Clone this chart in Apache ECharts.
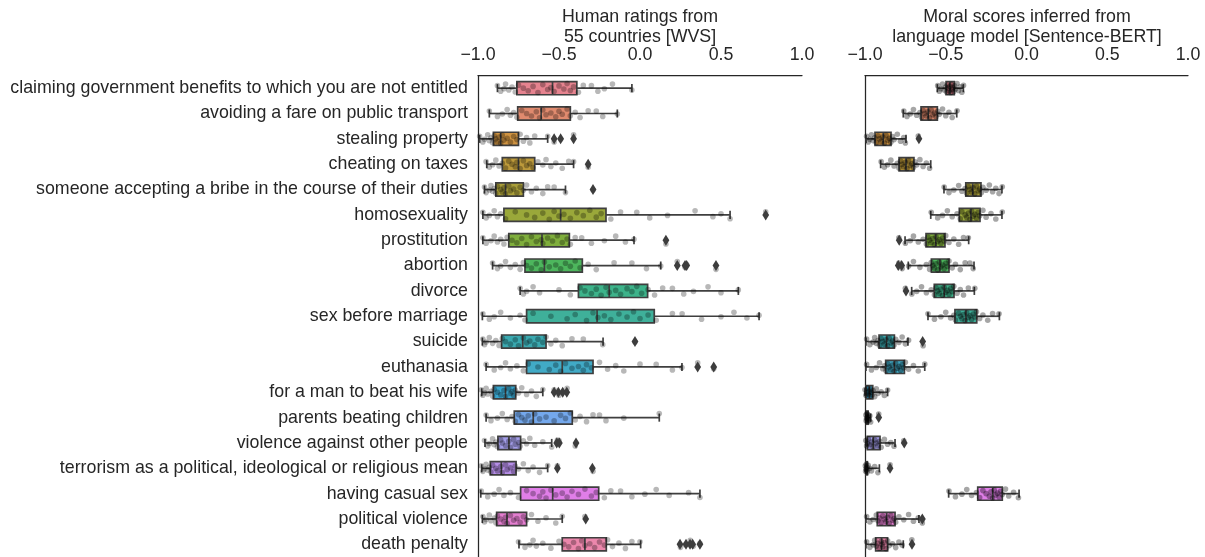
<!DOCTYPE html>
<html>
<head>
<meta charset="utf-8">
<script src="https://cdn.jsdelivr.net/npm/echarts@6/dist/echarts.min.js"></script>
<style>
  html, body { margin: 0; padding: 0; background: #fff; }
  #chart { width: 1205px; height: 557px; }
</style>
</head>
<body>
<div id="chart"></div>
<script>
const CATEGORIES = [
  "claiming government benefits to which you are not entitled",
  "avoiding a fare on public transport",
  "stealing property",
  "cheating on taxes",
  "someone accepting a bribe in the course of their duties",
  "homosexuality",
  "prostitution",
  "abortion",
  "divorce",
  "sex before marriage",
  "suicide",
  "euthanasia",
  "for a man to beat his wife",
  "parents beating children",
  "violence against other people",
  "terrorism as a political, ideological or religious mean",
  "having casual sex",
  "political violence",
  "death penalty"
];

// [lower whisker, q1, median, q3, upper whisker]
const WVS_BOX = [
  [-0.88, -0.76, -0.54, -0.39, -0.05],
  [-0.93, -0.755, -0.61, -0.43, -0.14],
  [-0.99, -0.905, -0.86, -0.75, -0.57],
  [-0.946, -0.85, -0.75, -0.65, -0.41],
  [-0.96, -0.89, -0.83, -0.72, -0.46],
  [-0.97, -0.84, -0.49, -0.21, 0.556],
  [-0.97, -0.81, -0.605, -0.436, -0.037],
  [-0.91, -0.71, -0.59, -0.356, 0.128],
  [-0.74, -0.38, -0.19, 0.047, 0.607],
  [-0.973, -0.70, -0.265, 0.088, 0.735],
  [-0.973, -0.854, -0.724, -0.58, -0.228],
  [-0.95, -0.70, -0.48, -0.29, 0.259],
  [-0.977, -0.905, -0.83, -0.767, -0.60],
  [-0.95, -0.776, -0.659, -0.418, 0.119],
  [-0.957, -0.877, -0.809, -0.737, -0.545],
  [-0.977, -0.924, -0.856, -0.765, -0.57],
  [-0.983, -0.737, -0.539, -0.255, 0.37],
  [-0.973, -0.885, -0.821, -0.70, -0.48],
  [-0.747, -0.48, -0.34, -0.208, 0.004]
];

const WVS_OUTLIERS = [
  [], [], [-0.53, -0.49, -0.41], [-0.32], [-0.29], [0.776], [0.16],
  [0.23, 0.278, 0.288, 0.469], [], [], [-0.031], [0.356, 0.455],
  [-0.53, -0.504, -0.477, -0.452], [], [-0.514, -0.498, -0.395],
  [-0.51, -0.294], [], [-0.335], [0.247, 0.284, 0.309, 0.325, 0.37]
];

const WVS_POINTS = [
  [-0.88,-0.86,-0.84,-0.83,-0.81,-0.79,-0.77,-0.75,-0.72,-0.69,-0.66,-0.63,-0.6,-0.57,-0.55,-0.53,-0.5,-0.47,-0.45,-0.43,-0.41,-0.38,-0.35,-0.3,-0.26,-0.22,-0.17,-0.05],
  [-0.93,-0.88,-0.85,-0.82,-0.8,-0.78,-0.76,-0.73,-0.7,-0.67,-0.64,-0.62,-0.6,-0.58,-0.55,-0.52,-0.5,-0.48,-0.45,-0.43,-0.4,-0.37,-0.32,-0.27,-0.23,-0.14],
  [-0.99,-0.97,-0.96,-0.94,-0.93,-0.92,-0.91,-0.9,-0.89,-0.88,-0.87,-0.86,-0.85,-0.84,-0.82,-0.8,-0.78,-0.76,-0.74,-0.72,-0.7,-0.68,-0.65,-0.57,-0.53,-0.49,-0.41],
  [-0.95,-0.93,-0.91,-0.89,-0.87,-0.85,-0.83,-0.81,-0.79,-0.77,-0.76,-0.74,-0.72,-0.7,-0.68,-0.66,-0.63,-0.6,-0.58,-0.55,-0.52,-0.48,-0.44,-0.41,-0.32],
  [-0.96,-0.95,-0.93,-0.92,-0.91,-0.9,-0.89,-0.88,-0.86,-0.85,-0.84,-0.83,-0.81,-0.8,-0.78,-0.76,-0.74,-0.72,-0.7,-0.67,-0.64,-0.6,-0.57,-0.53,-0.46,-0.29],
  [-0.97,-0.95,-0.93,-0.9,-0.88,-0.86,-0.83,-0.77,-0.7,-0.65,-0.6,-0.56,-0.53,-0.5,-0.47,-0.43,-0.39,-0.35,-0.31,-0.27,-0.24,-0.18,-0.12,-0.02,0.06,0.17,0.34,0.45,0.5,0.556,0.776],
  [-0.97,-0.95,-0.92,-0.9,-0.88,-0.86,-0.84,-0.82,-0.79,-0.76,-0.73,-0.7,-0.67,-0.64,-0.61,-0.6,-0.57,-0.54,-0.51,-0.48,-0.45,-0.43,-0.4,-0.36,-0.3,-0.22,-0.15,-0.09,-0.037,0.16],
  [-0.91,-0.88,-0.86,-0.83,-0.8,-0.77,-0.74,-0.72,-0.7,-0.67,-0.64,-0.61,-0.59,-0.56,-0.52,-0.49,-0.46,-0.43,-0.4,-0.37,-0.32,-0.27,-0.16,-0.05,0.04,0.128,0.23,0.278,0.288,0.469],
  [-0.74,-0.72,-0.7,-0.66,-0.62,-0.5,-0.43,-0.37,-0.34,-0.3,-0.27,-0.24,-0.21,-0.19,-0.15,-0.12,-0.08,-0.05,-0.02,0.01,0.05,0.09,0.14,0.2,0.27,0.33,0.42,0.5,0.607],
  [-0.97,-0.93,-0.9,-0.86,-0.8,-0.74,-0.71,-0.66,-0.55,-0.45,-0.4,-0.33,-0.29,-0.26,-0.22,-0.18,-0.13,-0.08,-0.04,0.0,0.05,0.1,0.2,0.26,0.38,0.5,0.58,0.66,0.735],
  [-0.97,-0.96,-0.95,-0.93,-0.91,-0.89,-0.87,-0.85,-0.83,-0.8,-0.77,-0.75,-0.72,-0.7,-0.68,-0.65,-0.63,-0.6,-0.58,-0.55,-0.52,-0.48,-0.42,-0.35,-0.23,-0.031],
  [-0.95,-0.9,-0.86,-0.83,-0.8,-0.76,-0.72,-0.69,-0.63,-0.56,-0.52,-0.49,-0.46,-0.42,-0.38,-0.35,-0.33,-0.3,-0.25,-0.2,-0.15,-0.1,0.0,0.1,0.2,0.259,0.356,0.455],
  [-0.98,-0.97,-0.96,-0.95,-0.94,-0.92,-0.91,-0.9,-0.88,-0.86,-0.84,-0.83,-0.81,-0.8,-0.79,-0.78,-0.77,-0.75,-0.73,-0.7,-0.67,-0.64,-0.6,-0.53,-0.5,-0.48,-0.45],
  [-0.95,-0.92,-0.88,-0.85,-0.82,-0.79,-0.77,-0.75,-0.73,-0.71,-0.69,-0.67,-0.65,-0.62,-0.58,-0.53,-0.49,-0.46,-0.43,-0.4,-0.37,-0.33,-0.29,-0.25,-0.21,-0.1,0.119],
  [-0.96,-0.94,-0.93,-0.91,-0.9,-0.89,-0.88,-0.86,-0.85,-0.83,-0.81,-0.8,-0.78,-0.77,-0.75,-0.74,-0.72,-0.7,-0.68,-0.65,-0.6,-0.545,-0.51,-0.5,-0.4],
  [-0.98,-0.97,-0.96,-0.95,-0.94,-0.93,-0.92,-0.91,-0.89,-0.88,-0.86,-0.85,-0.83,-0.82,-0.8,-0.78,-0.77,-0.75,-0.72,-0.69,-0.66,-0.62,-0.57,-0.51,-0.29],
  [-0.98,-0.94,-0.9,-0.87,-0.84,-0.8,-0.75,-0.7,-0.66,-0.62,-0.6,-0.58,-0.55,-0.52,-0.48,-0.45,-0.42,-0.38,-0.34,-0.3,-0.27,-0.22,-0.18,-0.12,-0.05,0.03,0.1,0.18,0.3,0.37],
  [-0.97,-0.96,-0.95,-0.93,-0.92,-0.9,-0.89,-0.88,-0.86,-0.84,-0.83,-0.82,-0.8,-0.78,-0.76,-0.74,-0.72,-0.7,-0.67,-0.63,-0.58,-0.52,-0.48,-0.34],
  [-0.75,-0.71,-0.68,-0.66,-0.64,-0.6,-0.55,-0.5,-0.47,-0.44,-0.41,-0.38,-0.36,-0.34,-0.31,-0.28,-0.25,-0.22,-0.2,-0.17,-0.13,-0.09,-0.05,0.0,0.25,0.28,0.31,0.33,0.37]
];

const SBERT_BOX = [
  [-0.552, -0.498, -0.474, -0.447, -0.391],
  [-0.763, -0.653, -0.608, -0.552, -0.432],
  [-0.994, -0.938, -0.887, -0.839, -0.746],
  [-0.903, -0.789, -0.746, -0.697, -0.593],
  [-0.511, -0.376, -0.333, -0.282, -0.152],
  [-0.593, -0.416, -0.344, -0.288, -0.152],
  [-0.752, -0.622, -0.562, -0.505, -0.358],
  [-0.732, -0.589, -0.536, -0.48, -0.325],
  [-0.711, -0.571, -0.509, -0.449, -0.323],
  [-0.61, -0.443, -0.375, -0.308, -0.168],
  [-0.994, -0.913, -0.866, -0.818, -0.734],
  [-0.994, -0.872, -0.818, -0.756, -0.63],
  [-1.0, -0.994, -0.973, -0.952, -0.86],
  [-0.994, -0.99, -0.985, -0.981, -0.965],
  [-0.994, -0.986, -0.949, -0.907, -0.814],
  [-0.998, -0.995, -0.99, -0.985, -0.911],
  [-0.482, -0.302, -0.209, -0.15, -0.046],
  [-0.994, -0.924, -0.866, -0.814, -0.666],
  [-0.994, -0.934, -0.897, -0.86, -0.763]
];

const SBERT_OUTLIERS = [
  [], [], [-0.666], [], [], [], [-0.788], [-0.794, -0.773], [-0.746], [],
  [-0.643], [], [], [-0.915], [-0.757], [-0.845], [], [-0.645], [-0.709]
];

const SBERT_POINTS = [
  [-0.55,-0.54,-0.53,-0.52,-0.51,-0.5,-0.495,-0.49,-0.485,-0.48,-0.475,-0.47,-0.465,-0.46,-0.455,-0.45,-0.445,-0.44,-0.43,-0.42,-0.41,-0.4,-0.39],
  [-0.76,-0.74,-0.72,-0.7,-0.68,-0.66,-0.65,-0.64,-0.63,-0.62,-0.61,-0.6,-0.59,-0.58,-0.57,-0.56,-0.55,-0.54,-0.52,-0.5,-0.48,-0.46,-0.43],
  [-0.99,-0.98,-0.97,-0.96,-0.95,-0.94,-0.93,-0.92,-0.91,-0.9,-0.89,-0.88,-0.87,-0.86,-0.85,-0.84,-0.83,-0.82,-0.8,-0.78,-0.76,-0.75,-0.67],
  [-0.9,-0.88,-0.86,-0.84,-0.82,-0.8,-0.79,-0.78,-0.77,-0.76,-0.75,-0.74,-0.73,-0.72,-0.71,-0.7,-0.69,-0.68,-0.66,-0.64,-0.62,-0.6],
  [-0.51,-0.48,-0.45,-0.42,-0.4,-0.38,-0.37,-0.36,-0.35,-0.34,-0.33,-0.32,-0.31,-0.3,-0.29,-0.28,-0.27,-0.25,-0.23,-0.21,-0.19,-0.17,-0.15],
  [-0.59,-0.55,-0.52,-0.49,-0.46,-0.43,-0.41,-0.4,-0.38,-0.37,-0.36,-0.35,-0.34,-0.33,-0.32,-0.31,-0.3,-0.29,-0.27,-0.25,-0.22,-0.19,-0.15],
  [-0.79,-0.75,-0.72,-0.7,-0.67,-0.64,-0.62,-0.61,-0.6,-0.59,-0.58,-0.57,-0.56,-0.55,-0.54,-0.53,-0.52,-0.51,-0.5,-0.48,-0.45,-0.42,-0.39,-0.36],
  [-0.79,-0.77,-0.73,-0.7,-0.66,-0.62,-0.6,-0.59,-0.58,-0.57,-0.56,-0.55,-0.54,-0.53,-0.52,-0.51,-0.5,-0.49,-0.48,-0.46,-0.44,-0.41,-0.38,-0.35,-0.33],
  [-0.75,-0.71,-0.68,-0.65,-0.62,-0.59,-0.57,-0.56,-0.55,-0.54,-0.53,-0.52,-0.51,-0.5,-0.49,-0.48,-0.47,-0.46,-0.45,-0.43,-0.41,-0.39,-0.36,-0.32],
  [-0.61,-0.57,-0.53,-0.5,-0.47,-0.45,-0.44,-0.42,-0.41,-0.4,-0.39,-0.38,-0.37,-0.36,-0.35,-0.34,-0.33,-0.32,-0.31,-0.29,-0.27,-0.24,-0.21,-0.17],
  [-0.99,-0.97,-0.95,-0.94,-0.93,-0.92,-0.91,-0.9,-0.89,-0.88,-0.87,-0.86,-0.85,-0.84,-0.83,-0.82,-0.81,-0.79,-0.77,-0.75,-0.73,-0.64],
  [-0.99,-0.96,-0.93,-0.91,-0.89,-0.88,-0.87,-0.86,-0.85,-0.84,-0.83,-0.82,-0.81,-0.8,-0.79,-0.78,-0.77,-0.76,-0.75,-0.73,-0.7,-0.67,-0.63],
  [-1.0,-0.995,-0.99,-0.985,-0.98,-0.975,-0.97,-0.965,-0.96,-0.955,-0.95,-0.94,-0.93,-0.92,-0.9,-0.88,-0.86],
  [-0.995,-0.993,-0.99,-0.988,-0.986,-0.985,-0.984,-0.982,-0.98,-0.975,-0.97,-0.965,-0.915],
  [-0.995,-0.99,-0.985,-0.98,-0.97,-0.96,-0.95,-0.94,-0.93,-0.92,-0.91,-0.9,-0.88,-0.86,-0.84,-0.82,-0.76],
  [-0.998,-0.996,-0.994,-0.992,-0.99,-0.988,-0.986,-0.98,-0.97,-0.96,-0.94,-0.92,-0.845],
  [-0.48,-0.44,-0.4,-0.37,-0.34,-0.31,-0.29,-0.27,-0.25,-0.23,-0.22,-0.21,-0.2,-0.19,-0.18,-0.17,-0.16,-0.15,-0.13,-0.11,-0.08,-0.05],
  [-0.99,-0.97,-0.95,-0.93,-0.92,-0.91,-0.9,-0.89,-0.88,-0.87,-0.86,-0.85,-0.84,-0.83,-0.82,-0.81,-0.79,-0.76,-0.73,-0.7,-0.67,-0.645],
  [-0.99,-0.97,-0.95,-0.94,-0.93,-0.92,-0.91,-0.9,-0.895,-0.89,-0.88,-0.87,-0.86,-0.85,-0.83,-0.81,-0.79,-0.77,-0.71]
];

const COLORS = [
  "#e6838f", "#e08a6e", "#cf9341", "#bd9a3b", "#aa9f39", "#9aa83a", "#7fae3c",
  "#4db65d", "#3db38a", "#3fb09a", "#3aa9b0", "#41aac6", "#38a4cc", "#74a8ec",
  "#a39de8", "#b68ee8", "#e07ee8", "#e47ed0", "#ec87ac"
];

// fixed vertical jitter pattern (fraction of a row)
const JITTER = [-0.1, 0.12, 0.02, -0.16, 0.07, -0.04, 0.15, -0.12, 0.0, 0.1, -0.07, 0.17,
  -0.14, 0.05, -0.02, 0.13, -0.09, 0.03, -0.18, 0.09, -0.05, 0.16, -0.11];

const EDGE = "#3f3f3f";
const TEXT = "#262626";
const FONT = "Liberation Sans, Arial, sans-serif";
const FS = 17.8;

function renderBox(params, api) {
  const i = api.value(0);
  const band = api.size([0, 1])[1];
  const half = band * 0.26, capHalf = band * 0.16;
  const y = api.coord([0, i])[1];
  const [lo, q1, md, q3, hi] = [1, 2, 3, 4, 5].map(k => api.coord([api.value(k), i])[0]);
  const s = { stroke: EDGE, lineWidth: 1.7 };
  return {
    type: "group",
    children: [
      { type: "line", shape: { x1: lo, y1: y, x2: q1, y2: y }, style: s },
      { type: "line", shape: { x1: q3, y1: y, x2: hi, y2: y }, style: s },
      { type: "line", shape: { x1: lo, y1: y - capHalf, x2: lo, y2: y + capHalf }, style: s },
      { type: "line", shape: { x1: hi, y1: y - capHalf, x2: hi, y2: y + capHalf }, style: s },
      { type: "rect", shape: { x: q1, y: y - half, width: q3 - q1, height: 2 * half },
        style: { fill: COLORS[params.dataIndex], stroke: EDGE, lineWidth: 1.7 } },
      { type: "line", shape: { x1: md, y1: y - half, x2: md, y2: y + half }, style: s }
    ]
  };
}

function renderDiamond(params, api) {
  const p = api.coord([api.value(0), api.value(1)]);
  return {
    type: "polygon",
    shape: { points: [[p[0], p[1] - 5.5], [p[0] + 3.4, p[1]], [p[0], p[1] + 5.5], [p[0] - 3.4, p[1]]] },
    style: { fill: "#3d3d3d" }
  };
}

function pointRenderer(alpha) {
  return function (params, api) {
    const band = api.size([0, 1])[1];
    const p = api.coord([api.value(0), api.value(1)]);
    const j = JITTER[api.value(2) % JITTER.length] * band;
    return {
      type: "circle",
      shape: { cx: p[0], cy: p[1] + j, r: 2.8 },
      style: { fill: "rgba(0,0,0," + alpha + ")" }
    };
  };
}

const boxRows = box => box.map((b, i) => [i].concat(b));
const flatRows = rows => rows.flatMap((vals, i) => vals.map((v, k) => [v, i, k]));

function panel(idx, box, outliers, points, alpha) {
  return [
    { type: "custom", xAxisIndex: idx, yAxisIndex: idx, renderItem: renderBox,
      data: boxRows(box), encode: { x: [1, 2, 3, 4, 5], y: 0 }, clip: false },
    { type: "custom", xAxisIndex: idx, yAxisIndex: idx, renderItem: pointRenderer(alpha),
      data: flatRows(points), encode: { x: 0, y: 1 }, clip: false },
    { type: "custom", xAxisIndex: idx, yAxisIndex: idx, renderItem: renderDiamond,
      data: flatRows(outliers), encode: { x: 0, y: 1 }, clip: false }
  ];
}

const fmt = v => (v < 0 ? "\u2212" : "") + Math.abs(v).toFixed(1);

const xAxisBase = gi => ({
  type: "value", gridIndex: gi, position: "top", min: -1, max: 1, interval: 0.5,
  axisLine: { show: true, onZero: false, lineStyle: { color: TEXT, width: 1.25 } },
  axisTick: { show: false }, splitLine: { show: false },
  axisLabel: { formatter: fmt, fontSize: FS, fontFamily: FONT, color: TEXT, margin: 11 }
});

const yAxisBase = (gi, showLabels) => ({
  type: "category", gridIndex: gi, inverse: true, data: CATEGORIES,
  axisLine: { show: true, onZero: false, lineStyle: { color: TEXT, width: 1.25 } },
  axisTick: { show: false }, splitLine: { show: false },
  axisLabel: { show: showLabels, fontSize: FS, fontFamily: FONT, color: TEXT, margin: 10, interval: 0 }
});

const chart = echarts.init(document.getElementById("chart"));
chart.setOption({
  animation: false,
  backgroundColor: "#fff",
  grid: [
    { left: 478, top: 75.5, width: 324, height: 484, containLabel: false },
    { left: 865, top: 75.5, width: 323, height: 484, containLabel: false }
  ],
  xAxis: [xAxisBase(0), xAxisBase(1)],
  yAxis: [yAxisBase(0, true), yAxisBase(1, false)],
  graphic: [
    { type: "text", x: 640, y: 7, style: { text: "Human ratings from\n55 countries [WVS]",
      textAlign: "center", textVerticalAlign: "top", fontSize: FS, fontFamily: FONT, fill: TEXT, lineHeight: 20 } },
    { type: "text", x: 1027, y: 7, style: { text: "Moral scores inferred from\nlanguage model [Sentence-BERT]",
      textAlign: "center", textVerticalAlign: "top", fontSize: FS, fontFamily: FONT, fill: TEXT, lineHeight: 20 } }
  ],
  series: [
    ...panel(0, WVS_BOX, WVS_OUTLIERS, WVS_POINTS, 0.28),
    ...panel(1, SBERT_BOX, SBERT_OUTLIERS, SBERT_POINTS, 0.35)
  ]
});
</script>
</body>
</html>
